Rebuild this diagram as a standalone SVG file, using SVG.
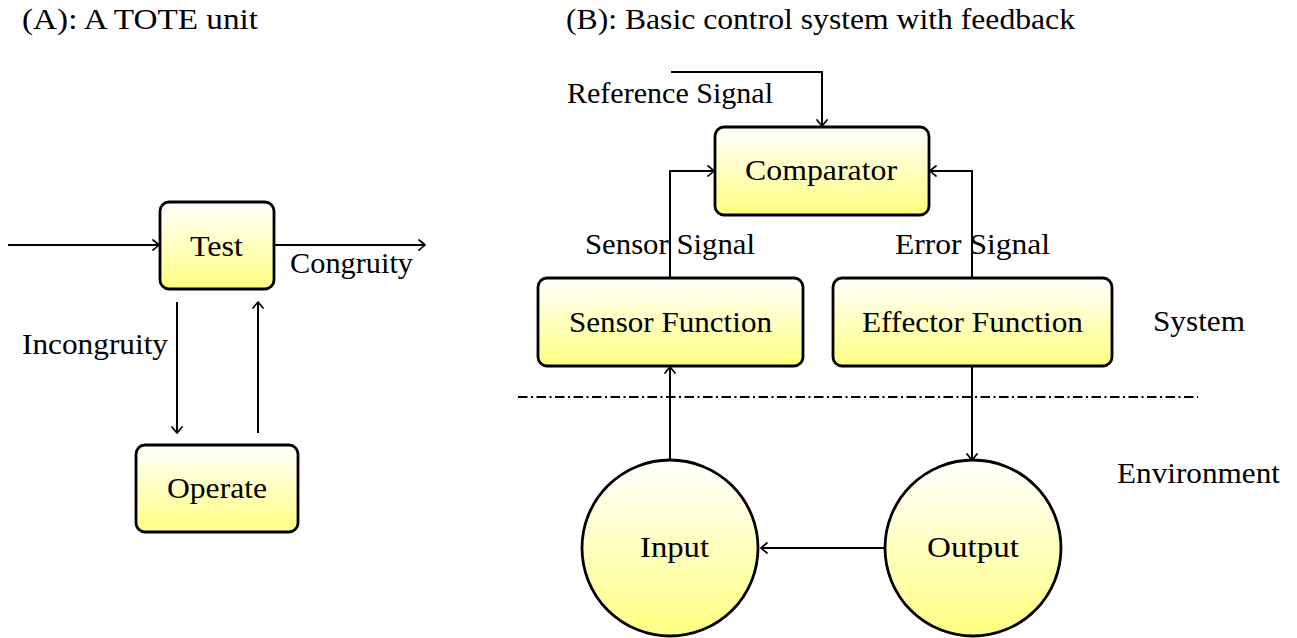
<svg xmlns="http://www.w3.org/2000/svg" width="1297" height="638" viewBox="0 0 1297 638">
<style>
text{font-family:"Liberation Serif","DejaVu Serif",serif;font-size:30px;fill:#000}
.box{fill:url(#g);stroke:#000;stroke-width:2.8}
.ln{fill:none;stroke:#000;stroke-width:2}
.dd{fill:none;stroke:#000;stroke-width:2;stroke-dasharray:9.5 3.5 2 3.5}
</style>
<defs>
<linearGradient id="g" x1="0" y1="0" x2="0" y2="1">
<stop offset="0" stop-color="#ffffff"/>
<stop offset="1" stop-color="#ffff80"/>
</linearGradient>
<marker id="a" viewBox="-8 -6 10 12" markerWidth="10" markerHeight="12" refX="0" refY="0" orient="auto" markerUnits="userSpaceOnUse">
<path d="M-6,-5 Q-1,-1 0,0 Q-1,1 -6,5" fill="none" stroke="#000" stroke-width="1.7" stroke-linecap="round"/>
</marker>
</defs>
<text x="22" y="29" textLength="236" lengthAdjust="spacingAndGlyphs">(A): A TOTE unit</text>
<text x="566" y="29" textLength="509" lengthAdjust="spacingAndGlyphs">(B): Basic control system with feedback</text>
<g id="connectors">
<path class="ln" d="M8,245 H159" marker-end="url(#a)"/>
<path class="ln" d="M275,245 H425" marker-end="url(#a)"/>
<path class="ln" d="M177,302 V433" marker-end="url(#a)"/>
<path class="ln" d="M258,433 V302" marker-end="url(#a)"/>
<path class="ln" d="M671,72 H822 V126" marker-end="url(#a)"/>
<path class="ln" d="M670,278 V171 H714" marker-end="url(#a)"/>
<path class="ln" d="M972,278 V171 H930" marker-end="url(#a)"/>
<path class="ln" d="M670,460 V367" marker-end="url(#a)"/>
<path class="ln" d="M972,367 V460" marker-end="url(#a)"/>
<path class="ln" d="M886,548 H761" marker-end="url(#a)"/>
<path class="dd" d="M518,397 H1198"/>
<text x="290" y="273" textLength="123" lengthAdjust="spacingAndGlyphs">Congruity</text>
<text x="22" y="354" textLength="146" lengthAdjust="spacingAndGlyphs">Incongruity</text>
<text x="567" y="103" textLength="206" lengthAdjust="spacingAndGlyphs">Reference Signal</text>
<text x="585" y="254" textLength="170" lengthAdjust="spacingAndGlyphs">Sensor Signal</text>
<text x="895" y="254" textLength="155" lengthAdjust="spacingAndGlyphs">Error Signal</text>
</g>
<g id="test"><rect class="box" x="160" y="202" width="114" height="87" rx="9"/><text x="190" y="256" textLength="53" lengthAdjust="spacingAndGlyphs">Test</text></g>
<g id="operate"><rect class="box" x="136" y="445" width="162" height="87" rx="9"/><text x="167" y="498" textLength="100" lengthAdjust="spacingAndGlyphs">Operate</text></g>
<g id="comparator"><rect class="box" x="715" y="127" width="214" height="88" rx="9"/><text x="745" y="180" textLength="152" lengthAdjust="spacingAndGlyphs">Comparator</text></g>
<g id="sensor"><rect class="box" x="538" y="278" width="265" height="88" rx="9"/><text x="569" y="332" textLength="203" lengthAdjust="spacingAndGlyphs">Sensor Function</text></g>
<g id="effector"><rect class="box" x="833" y="278" width="279" height="88" rx="9"/><text x="862" y="332" textLength="221" lengthAdjust="spacingAndGlyphs">Effector Function</text></g>
<g id="input"><circle class="box" cx="670" cy="548" r="88"/><text x="640" y="557" textLength="69" lengthAdjust="spacingAndGlyphs">Input</text></g>
<g id="output"><circle class="box" cx="973" cy="548" r="88"/><text x="927" y="557" textLength="92" lengthAdjust="spacingAndGlyphs">Output</text></g>
<g id="labels">
<text x="1153" y="331" textLength="92" lengthAdjust="spacingAndGlyphs">System</text>
<text x="1117" y="483" textLength="163" lengthAdjust="spacingAndGlyphs">Environment</text>
</g>
</svg>
